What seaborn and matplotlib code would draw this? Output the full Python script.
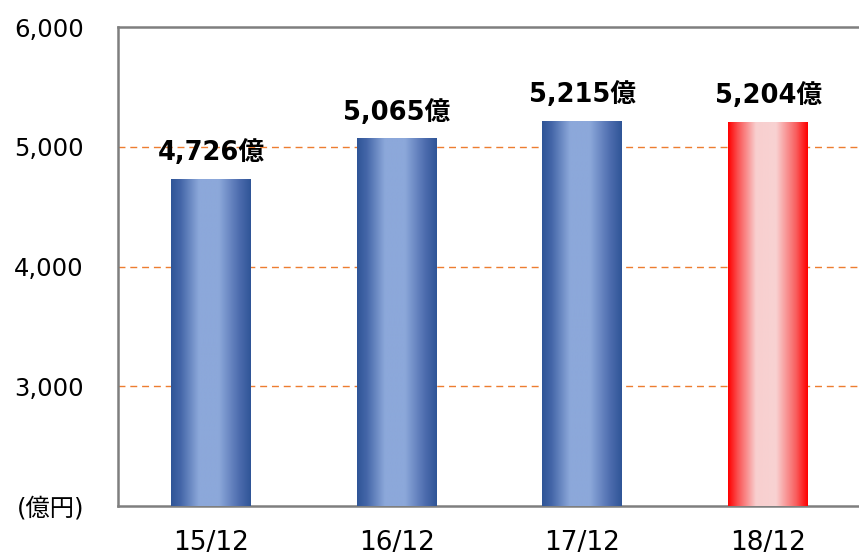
import numpy as np
import matplotlib
matplotlib.use("Agg")
import matplotlib.pyplot as plt
from matplotlib.colors import LinearSegmentedColormap
import seaborn as sns

# datos
periodos = ["15/12", "16/12", "17/12", "18/12"]
ventas = [4726, 5065, 5215, 5204]
etiquetas = ["4,726億", "5,065億", "5,215億", "5,204億"]
ticks_y = [2000, 3000, 4000, 5000, 6000]
ticks_y_txt = ["(億円)", "3,000", "4,000", "5,000", "6,000"]

sns.set_theme(style="white")
plt.rcParams["font.family"] = ["DejaVu Sans", "Noto Sans CJK JP"]

fig = plt.figure(figsize=(8.59, 5.56), dpi=100)
ax = fig.add_axes([0.1374, 0.0899, 0.865, 0.8615])

colores = ["#2F5597", "#2F5597", "#2F5597", "#FF0000"]
sns.barplot(x=periodos, y=ventas, hue=periodos, palette=colores,
            width=0.43, legend=False, ax=ax, zorder=3)

y_min, y_max = 2000, 6000

# degradado horizontal dentro de cada barra
grad_azul = LinearSegmentedColormap.from_list(
    "azul", [(0, "#2F5597"), (0.12, "#4466A8"), (0.35, "#8CA8DA"),
             (0.6, "#8CA8DA"), (0.85, "#4E6DAF"), (1, "#2F5597")])
grad_rojo = LinearSegmentedColormap.from_list(
    "rojo", [(0, "#FF0000"), (0.12, "#FA5050"), (0.35, "#F8CFCF"),
             (0.6, "#F8D2D2"), (0.85, "#F96060"), (1, "#FF0000")])
fila = np.linspace(0, 1, 256).reshape(1, -1)
for i, barra in enumerate(ax.patches):
    x0 = barra.get_x()
    w = barra.get_width()
    h = barra.get_height()
    cmap = grad_rojo if i == 3 else grad_azul
    ax.imshow(fila, cmap=cmap, aspect="auto",
              extent=[x0, x0 + w, y_min, h], zorder=3)
    barra.set_facecolor("none")
    barra.set_edgecolor("none")

ax.set_xlim(-0.5, 3.5)
ax.set_ylim(y_min, y_max)

# líneas de referencia
for v in [3000, 4000, 5000]:
    ax.axhline(v, color="#ED7D31", linestyle=(0, (5, 3.5)), linewidth=1, zorder=1)

for i, (v, t) in enumerate(zip(ventas, etiquetas)):
    ax.annotate(t, (i, v), xytext=(0, 19), textcoords="offset points",
                ha="center", va="center", fontsize=18.5, fontweight="bold",
                color="black")

ax.set_xticks(range(len(periodos)))
ax.set_xticklabels(periodos)
ax.set_yticks(ticks_y)
ax.set_yticklabels(ticks_y_txt)
ax.tick_params(axis="y", length=0, pad=24.5, labelsize=17.5, labelcolor="black")
ax.tick_params(axis="x", length=0, pad=17.5, labelsize=19, labelcolor="black")
ax.set_xlabel("")
ax.set_ylabel("")

for s in ax.spines.values():
    s.set_color("#7F7F7F")
    s.set_linewidth(1.8)

plt.savefig("out.png", dpi=100)
